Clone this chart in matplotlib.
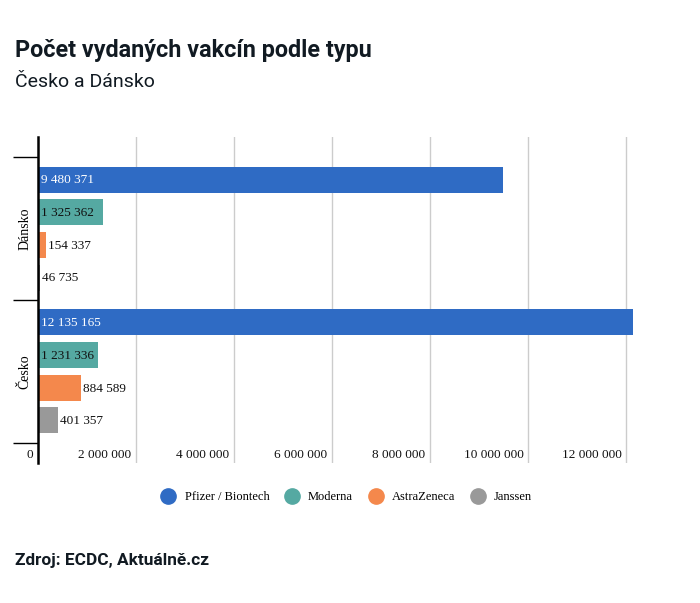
import matplotlib.pyplot as plt
from matplotlib.lines import Line2D
from matplotlib.transforms import blended_transform_factory

# data
countries = ["Dánsko", "Česko"]
vaccines = ["Pfizer / Biontech", "Moderna", "AstraZeneca", "Janssen"]
values = {
    "Dánsko": [9480371, 1325362, 154337, 46735],
    "Česko": [12135165, 1231336, 884589, 401357],
}
colors = ["#2f6bc4", "#55a9a2", "#f4884c", "#999999"]
xticks = [0, 2000000, 4000000, 6000000, 8000000, 10000000, 12000000]

serif = "Liberation Serif"
sans = "Roboto"

def fmt(v):
    return f"{v:,}".replace(",", " ")

fig = plt.figure(figsize=(7, 6.03), dpi=100)
W, H = 700, 603
ax = fig.add_axes([38 / W, 1 - 463 / H, 637 / W, 326 / H])

step = 32.67 / 143
bar_h = 26 / 143
for ci, c in enumerate(countries):
    for vi, v in enumerate(values[c]):
        y = ci + (vi - 1.5) * step
        ax.barh(y, v, height=bar_h, color=colors[vi], zorder=2)
        if v > 1000000:
            tc = "white" if vi == 0 else "#111111"
            ax.text(60000, y + 0.005, fmt(v), va="center", ha="left", color=tc,
                    fontsize=9.5, family=serif, zorder=3)
        else:
            ax.text(v + 40000, y + 0.005, fmt(v), va="center", ha="left", color="#111111",
                    fontsize=9.5, family=serif, zorder=3)

ax.set_xlim(0, 13000000)
ax.set_ylim(1.64, -0.64)
for x in xticks[1:]:
    ax.axvline(x, color="#cccccc", lw=1, zorder=1)
tr = blended_transform_factory(ax.transData, ax.transAxes)
for x in xticks:
    ax.text(x - 90000, 8 / 326, fmt(x), transform=tr, ha="right", va="center",
            fontsize=9.5, family=serif, color="#111111")
ax.set_xticks([])

ax.set_yticks([-0.5, 0.5, 1.5])
ax.set_yticklabels([])
ax.tick_params(axis="y", which="major", length=18, width=1, color="black")
ax.set_yticks([0, 1], minor=True)
ax.set_yticklabels(countries, minor=True, rotation=90, va="center",
                   family=serif, fontsize=10)
ax.tick_params(axis="y", which="minor", length=0, pad=5)
for s in ["top", "right", "bottom"]:
    ax.spines[s].set_visible(False)
ax.spines["left"].set_linewidth(1.8)

handles = [Line2D([], [], marker="o", ls="", markersize=11, color=c) for c in colors]
fig.legend(handles, vaccines, loc="center", bbox_to_anchor=(344 / W, 1 - 497 / H),
           ncol=4, frameon=False, prop={"family": serif, "size": 9},
           handletextpad=0.3, columnspacing=0.8)

fig.text(15 / W, 1 - 50 / H, "Počet vydaných vakcín podle typu", fontsize=16.8,
         fontweight="bold", family=sans, color="#111a22", va="center")
fig.text(15 / W, 1 - 82 / H, "Česko a Dánsko", fontsize=14, family=sans,
         color="#111a22", va="center")
fig.text(15 / W, 1 - 560 / H, "Zdroj: ECDC, Aktuálně.cz", fontsize=12.4,
         fontweight="bold", family=sans, color="#111a22", va="center")

fig.savefig("out.png", dpi=100, facecolor="white")
